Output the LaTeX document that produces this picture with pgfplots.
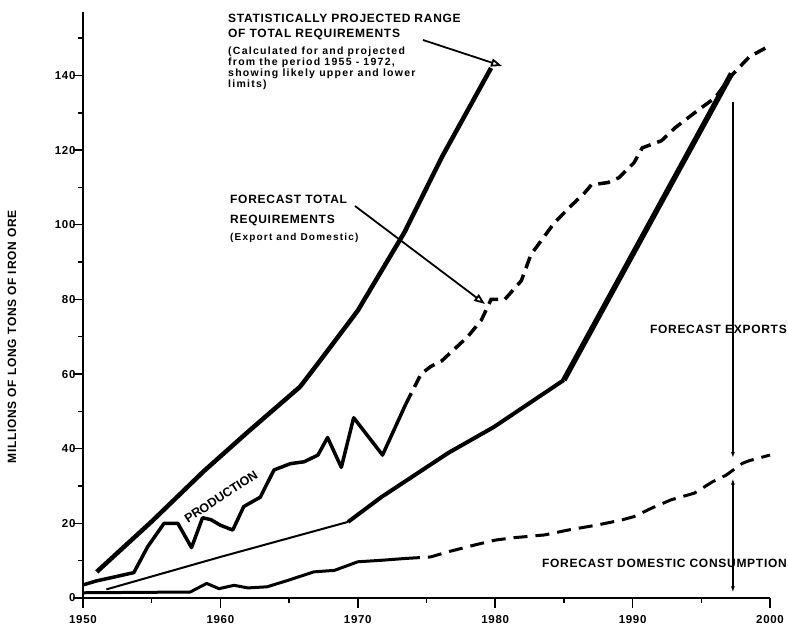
\documentclass[border=0pt]{standalone}
\usepackage{pgfplots}
\usepackage{pgfplotstable}
\pgfplotsset{compat=1.18}
\usepackage{fontspec}
\setmainfont{Liberation Sans}
\newfontfamily\lbl[LetterSpace=6]{Liberation Sans}
\newfontfamily\lblw[LetterSpace=12]{Liberation Sans}
\usetikzlibrary{arrows.meta}

% upper statistical limit
\pgfplotstableread{
yr v
1951 7
1955 20.5
1958.8 34
1962 44.5
1965.8 56.6
1967.3 63.8
1970 77
1973.4 98
1976.1 118
1979.7 142
}\upper
% lower statistical limit, in three widths
\pgfplotstableread{
yr v
1951.7 2.3
1960 11
1969.3 20.4
}\lowerA
\pgfplotstableread{
yr v
1969.3 20.4
1971.7 27
1976.6 38.9
1979.9 45.8
1985 58.4
}\lowerB
\pgfplotstableread{
yr v
1985 58.4
1997.2 140.5
}\lowerC
\pgfplotstableread{
yr v
1950 3.5
1951 4.6
1952 5.4
1953.7 6.8
1954.7 13.7
1955.9 20
1956.9 20
1957.9 13.5
1958.7 21.5
1959.3 21
1960 19.5
1960.9 18.2
1961.7 24.5
1962.9 27
1963.9 34.3
1965.1 36
1966.1 36.5
1967.1 38.3
1967.8 43
1968.8 35
1969.7 48.3
1971.8 38.3
1973.5 52
}\production
\pgfplotstableread{
yr v
1973.5 52
1974.6 60
1975.3 62
1976.1 63.5
1978 70
1979 74.5
1979.7 80
1980.7 80
1981.9 85
1982.6 92
1983.4 96
1984.3 100.5
1985.5 105
1986.5 108.5
1987 110.7
1988.2 111.3
1989 112.6
1990.1 116.6
1990.7 120.6
1992.1 122.5
1993.1 126
1994.8 130.8
1996 134
1997.2 140
1998.5 145
2000 148
}\total
\pgfplotstableread{
yr v
1950 1.4
1957.8 1.6
1959 3.9
1959.9 2.5
1961 3.4
1962 2.7
1963.4 3
1964.9 4.7
1966.8 7
1968.3 7.4
1970 9.7
1971.7 10.1
1973.5 10.6
}\domA
\pgfplotstableread{
yr v
1973.5 10.6
1975.3 11
1976.6 12.4
1978.5 14.2
1980 15.5
1981.2 16.1
1983.6 16.9
1985.3 18.2
1987.5 19.6
1989.2 20.9
1990.1 21.8
1991.4 24.1
1992.8 26.3
1994.5 28.1
1995.8 31.1
1996.8 32.9
1998 36.1
1998.5 36.8
2000 38.3
}\domB

\begin{document}
\begin{tikzpicture}
\path[use as bounding box] (-83pt,-30pt) rectangle (705pt,598pt);
\begin{axis}[
  at={(0,0)}, anchor=south west,
  scale only axis, width=687pt, height=586pt,
  xmin=1950, xmax=2000, ymin=0, ymax=157,
  axis lines=left,
  axis line style={-, line width=1.8pt},
  every outer x axis line/.append style={-},
  every outer y axis line/.append style={-},
  xtick={1950,1960,...,2000}, minor xtick={1955,1965,...,1995},
  ytick={0,20,...,140}, minor ytick={10,30,...,150},
  tick align=outside, major tick length=10pt, minor tick length=5pt,
  tick style={black, line width=1.5pt},
  x tick label style={/pgf/number format/1000 sep={}, yshift=-4pt},
  y tick label style={xshift=6pt},
  tick label style={font=\lbl\bfseries\fontsize{11.5}{12}\selectfont},
  /pgf/number format/assume math mode=true,
  clip=false,
]
\addplot[line width=4.5pt, line join=round] table {\upper};
\addplot[line width=2pt] table {\lowerA};
\addplot[line width=4pt, line join=round] table {\lowerB};
\addplot[line width=5.5pt, line join=round] table {\lowerC};
\addplot[line width=3.5pt, line join=round] table {\production};
\addplot[line width=3.5pt, dash pattern=on 12pt off 7pt] table {\total};
\addplot[line width=3pt, line join=round] table {\domA};
\addplot[line width=3pt, dash pattern=on 14pt off 8pt] table {\domB};
\draw[line width=1.2pt, -{Latex[length=6pt,width=4pt]}] (axis cs:1997.3,133) -- (axis cs:1997.3,37.5);
\draw[line width=1.2pt, {Latex[length=6pt,width=4pt]}-{Latex[length=6pt,width=4pt]}] (axis cs:1997.3,32) -- (axis cs:1997.3,1.5);
\end{axis}
\begin{scope}[shift={(-83pt,598pt)}, x=1pt, y=-1pt]
\node[anchor=north west, inner sep=0, align=left,
  font=\lbl\bfseries\fontsize{12}{15}\selectfont] at (228,14)
  {STATISTICALLY PROJECTED RANGE\\OF TOTAL REQUIREMENTS};
\node[anchor=north west, inner sep=0, align=left,
  font=\lblw\bfseries\fontsize{10.5}{9.4}\selectfont] at (228,47)
  {(Calculated for and projected\\from the period 1955 - 1972,\\showing likely upper and lower\\limits)};
\draw[line width=1.8pt, -{Triangle[open,length=11pt,width=8pt]}] (423,40) -- (502,66);
\node[anchor=north west, inner sep=0, align=left,
  font=\lbl\bfseries\fontsize{12}{20}\selectfont] at (230,195)
  {FORECAST TOTAL\\REQUIREMENTS};
\node[anchor=north west, inner sep=0,
  font=\lblw\bfseries\fontsize{10}{12}\selectfont] at (230,233)
  {(Export and Domestic)};
\draw[line width=1.8pt, -{Triangle[open,length=11pt,width=8pt]}] (355,206) -- (485,304);
\node[rotate=33, inner sep=0, font=\bfseries\fontsize{12.5}{13}\selectfont] at (221,497) {PRODUCTION};
\node[anchor=east, font=\lbl\bfseries\fontsize{12}{14}\selectfont, inner sep=0] at (787,329) {FORECAST EXPORTS};
\node[anchor=east, font=\lbl\bfseries\fontsize{12}{14}\selectfont, inner sep=0] at (787,563) {FORECAST DOMESTIC CONSUMPTION};
\node[rotate=90, font=\lbl\bfseries\fontsize{12}{14}\selectfont, inner sep=0] at (12,337) {MILLIONS OF LONG TONS OF IRON ORE};
\end{scope}
\end{tikzpicture}
\end{document}
